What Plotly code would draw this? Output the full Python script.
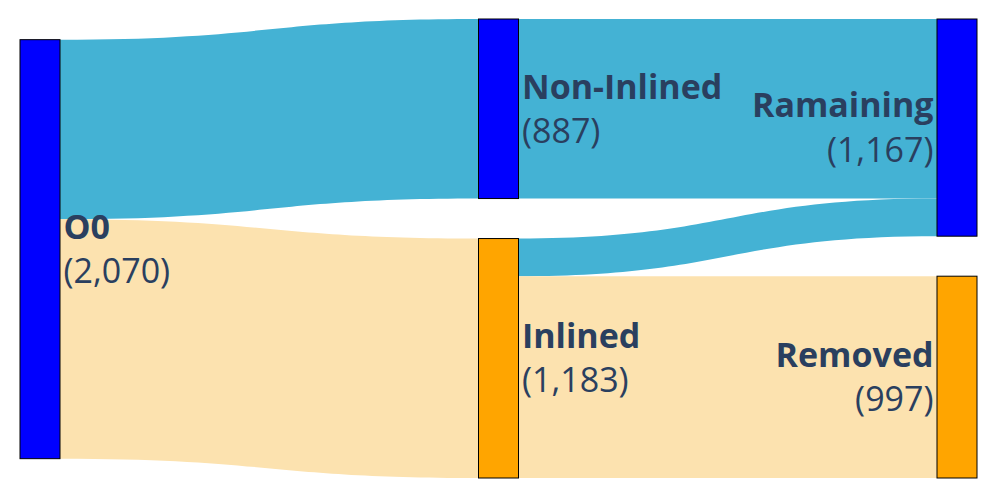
import plotly.graph_objects as go

# nodes
node_names = ["O0", "Non-Inlined", "Inlined", "Ramaining", "Removed"]
node_counts = [2070, 887, 1183, 1167, 997]
node_colors = ["#0000FF", "#0000FF", "#FFA500", "#0000FF", "#FFA500"]

# links
link_source = [0, 0, 1, 2, 2]
link_target = [1, 2, 3, 3, 4]
link_value = [887, 1183, 887, 186, 997]
link_colors = ["#44B2D4", "#FCE2AF", "#44B2D4", "#44B2D4", "#FCE2AF"]

labels = [f"<b>{n}</b><br>({c:,})" for n, c in zip(node_names, node_counts)]

fig = go.Figure(go.Sankey(
    arrangement="fixed",
    node=dict(
        label=labels,
        color=node_colors,
        pad=40,
        thickness=40,
        line=dict(color="black", width=1),
    ),
    link=dict(
        source=link_source,
        target=link_target,
        value=link_value,
        color=link_colors,
    ),
    textfont=dict(family="Open Sans", size=34, color="#2a3f5f", shadow="none"),
))

fig.update_layout(
    width=997,
    height=499,
    margin=dict(l=12, r=28, t=11, b=29),
    paper_bgcolor="white",
)

fig.write_html("out.html")
